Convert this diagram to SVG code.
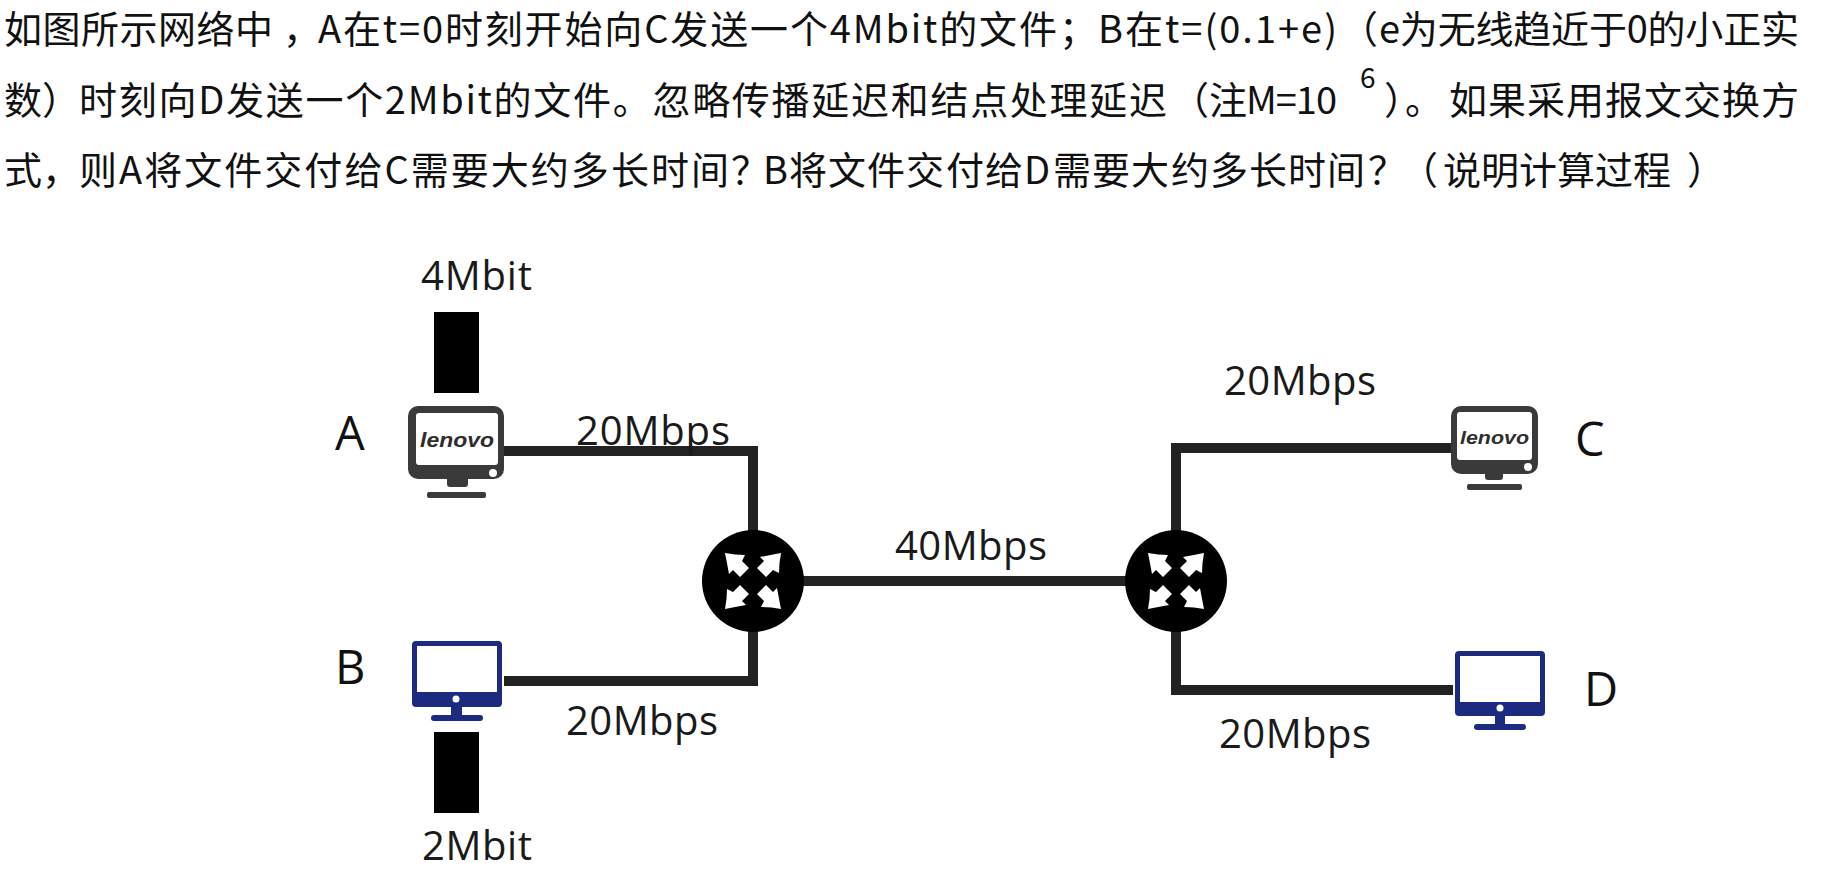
<svg xmlns="http://www.w3.org/2000/svg" width="1832" height="872" viewBox="0 0 1832 872">
<style>
text{font-family:"Noto Sans CJK SC","Noto Sans",sans-serif;fill:#111}
.q{font-size:38px}
.l{font-family:"Open Sans","Noto Sans",sans-serif;font-size:40px;fill:#1a1a1a}
.n{font-family:"Open Sans","Noto Sans",sans-serif;font-size:47px;fill:#111}
.len{font-family:"Liberation Sans",sans-serif;font-size:21px;font-weight:700;font-style:italic;fill:#2e2e2e}
.link{fill:none;stroke:#222;stroke-width:10}
.blue{fill:#1c2a80}.dark{fill:#3a3a3a}.w{fill:#fff}
</style>
<defs>
<path id="arw" fill="#fff" d="M-28 -28Q-18 -26 -8 -26L-11 -20L-4 -13L-13 -4L-20 -11L-24 -7Q-26 -18 -28 -28Z"/>
<g id="router"><circle r="51" fill="#000"/><use href="#arw"/><use href="#arw" transform="rotate(90)"/><use href="#arw" transform="rotate(180)"/><use href="#arw" transform="rotate(270)"/></g>
</defs>
<rect width="1832" height="872" fill="#fff"/>
<g id="question">
<text x="4" y="43" class="q" textLength="269">如图所示网络中</text>
<text x="283" y="43" class="q">，</text>
<text x="318" y="43" class="q" textLength="739">A在t=0时刻开始向C发送一个4Mbit的文件</text>
<text x="1059" y="43" class="q">；</text>
<text x="1098" y="43" class="q" textLength="239">B在t=(0.1+e)</text>
<text x="1340" y="43" class="q">（</text>
<text x="1379" y="43" class="q" textLength="420">e为无线趋近于0的小正实</text>
<text x="4" y="114" class="q">数</text>
<text x="42" y="114" class="q">）</text>
<text x="79" y="114" class="q" textLength="1088">时刻向D发送一个2Mbit的文件。忽略传播延迟和结点处理延迟</text>
<text x="1171" y="114" class="q">（</text>
<text x="1209" y="114" class="q" textLength="128">注M=10</text>
<text x="1360" y="88" style="font-size:28px">6</text>
<text x="1384 1405" y="114" class="q">）。</text>
<text x="1449" y="114" class="q" textLength="350">如果采用报文交换方</text>
<text x="4" y="184" class="q">式</text>
<text x="42" y="184" class="q">，</text>
<text x="79" y="184" class="q" textLength="650">则A将文件交付给C需要大约多长时间</text>
<text x="731 763 789 828 867 906 946 985 1024 1053 1092 1131 1171 1210 1249 1288 1327 1368 1400" y="184" class="q">？B将文件交付给D需要大约多长时间？（</text>
<text x="1443" y="184" class="q" textLength="228">说明计算过程</text>
<text x="1687" y="184" class="q">）</text>
</g>
<g id="connectors">
<path class="link" d="M504 451H753V540"/>
<path class="link" d="M504 681H753V620"/>
<path class="link" d="M790 581H1140"/>
<path class="link" d="M1176 540V448H1452"/>
<path class="link" d="M1176 620V690H1453"/>
</g>
<g id="router1" transform="translate(753 581)"><use href="#router"/></g>
<g id="router2" transform="translate(1176 581)"><use href="#router"/></g>
<g id="A">
<rect class="dark" x="408" y="406" width="96" height="73" rx="10"/>
<rect class="w" x="416" y="413" width="82" height="52" rx="3"/>
<circle class="w" cx="493" cy="473" r="4"/>
<rect class="dark" x="447" y="476" width="21" height="11" rx="3"/>
<rect class="dark" x="427" y="492" width="59" height="6" rx="2"/>
<text class="len" x="420" y="447" textLength="74" lengthAdjust="spacingAndGlyphs">lenovo</text>
<text class="n" x="335" y="450">A</text>
</g>
<g id="fileA"><rect x="434" y="312" width="45" height="81" fill="#000"/><text class="l" x="421" y="290" textLength="111">4Mbit</text></g>
<g id="B">
<path class="blue" fill-rule="evenodd" d="M416 641H498Q502 641 502 645V703Q502 707 498 707H462V715H480Q483 715 483 718T480 721H434Q431 721 431 718T434 715H451V707H416Q412 707 412 703V645Q412 641 416 641ZM417 646V692H497V646Z"/>
<circle class="w" cx="456" cy="699" r="3.5"/>
<text class="n" x="335" y="684">B</text>
</g>
<g id="fileB"><rect x="434" y="732" width="45" height="81" fill="#000"/><text class="l" x="422" y="860" textLength="110">2Mbit</text></g>
<g id="C">
<rect class="dark" x="1451" y="406" width="87" height="68" rx="10"/>
<rect class="w" x="1457" y="412" width="75" height="48" rx="3"/>
<circle class="w" cx="1528" cy="467" r="4"/>
<rect class="dark" x="1485" y="472" width="18" height="8" rx="3"/>
<rect class="dark" x="1467" y="484" width="55" height="6" rx="2"/>
<text class="len" x="1460" y="444" style="font-size:19px" textLength="69" lengthAdjust="spacingAndGlyphs">lenovo</text>
<text class="n" x="1575" y="456">C</text>
</g>
<g id="D">
<path class="blue" fill-rule="evenodd" d="M1459 651H1541Q1545 651 1545 655V712Q1545 716 1541 716H1505V724H1523Q1526 724 1526 727T1523 730H1477Q1474 730 1474 727T1477 724H1495V716H1459Q1455 716 1455 712V655Q1455 651 1459 651ZM1460 656V702H1540V656Z"/>
<circle class="w" cx="1500" cy="708" r="3.5"/>
<text class="n" x="1584" y="706">D</text>
</g>
<g id="labels">
<text class="l" x="576" y="445" textLength="154">20Mbps</text>
<text class="l" x="566" y="735" textLength="152">20Mbps</text>
<text class="l" x="895" y="560" textLength="152">40Mbps</text>
<text class="l" x="1224" y="395" textLength="152">20Mbps</text>
<text class="l" x="1219" y="748" textLength="152">20Mbps</text>
</g>
</svg>
